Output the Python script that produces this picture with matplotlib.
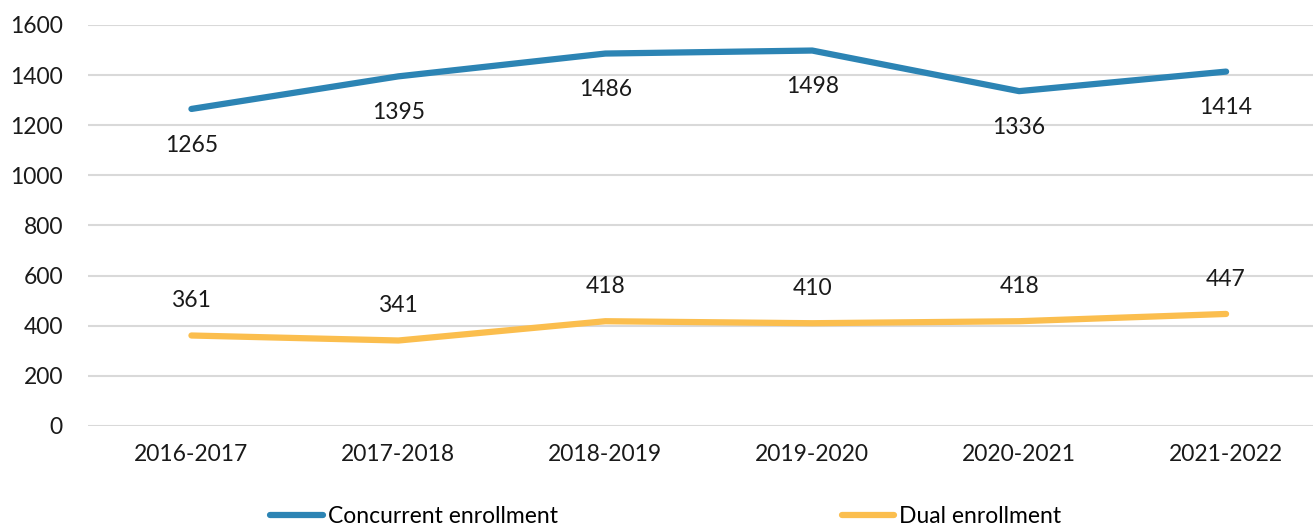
import matplotlib
matplotlib.use('Agg')
import matplotlib.pyplot as plt

years = ['2016-2017', '2017-2018', '2018-2019', '2019-2020', '2020-2021', '2021-2022']
concurrent = [1265, 1395, 1486, 1498, 1336, 1414]
dual = [361, 341, 418, 410, 418, 447]

BLUE = '#2C84B4'
YELLOW = '#FBBE4E'

plt.rcParams['font.family'] = ['Lato', 'DejaVu Sans']

fig = plt.figure(figsize=(13.13, 5.27), dpi=100)
ax = fig.add_axes([0.067, 0.1917, 0.933, 0.7609])

x = range(len(years))
ax.plot(x, concurrent, color=BLUE, lw=4.5, solid_capstyle='round', label='Concurrent enrollment')
ax.plot(x, dual, color=YELLOW, lw=4.5, solid_capstyle='round', label='Dual enrollment')

# data labels: blue below, yellow above
for i, v in enumerate(concurrent):
    ax.annotate(str(v), (i, v), xytext=(0, -26), textcoords='offset points',
                ha='center', va='center', fontsize=16.5, color='#1a1a1a')
for i, v in enumerate(dual):
    ax.annotate(str(v), (i, v), xytext=(0, 25), textcoords='offset points',
                ha='center', va='center', fontsize=16.5, color='#1a1a1a')

ax.set_xlim(-0.5, 5.42)
ax.set_ylim(0, 1600)
ax.set_yticks(range(0, 1601, 200))
ax.set_xticks(list(x))
ax.set_xticklabels(years)
ax.tick_params(axis='both', length=0, labelsize=16.5, colors='#1a1a1a')
ax.tick_params(axis='y', pad=18)
ax.tick_params(axis='x', pad=13)
ax.grid(axis='y', color='#d9d9d9', lw=1.5)
ax.set_axisbelow(True)
for s in ax.spines.values():
    s.set_visible(False)

fig.legend(loc='center', bbox_to_anchor=(0.507, 0.019), ncol=2, frameon=False,
           fontsize=16.5, handlelength=2.3, handletextpad=0.22, columnspacing=12.4)

fig.savefig('out.png', dpi=100)
